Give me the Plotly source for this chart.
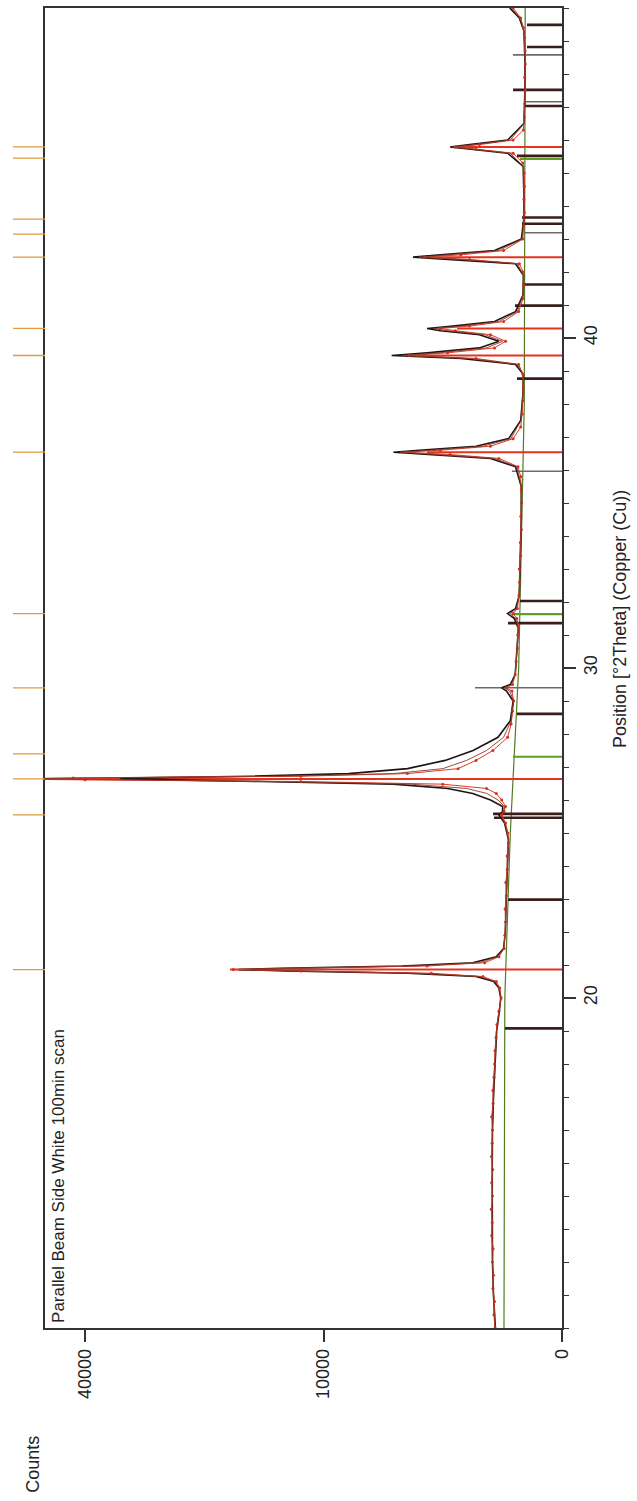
import numpy as np
import plotly.graph_objects as go

# ---------------- data ----------------
# observed scan (2theta, counts)
obs_theta = [10.0, 10.4, 10.8, 11.2, 11.6, 12.0, 12.4, 12.8, 13.2, 13.6,
             14.0, 14.4, 14.8, 15.2, 15.6, 16.0, 16.4, 16.8, 17.2, 17.6,
             18.0, 18.4, 18.8, 19.2, 19.6, 20.0, 20.3, 20.5, 20.65, 20.75,
             20.82, 20.86, 20.9, 20.97, 21.07, 21.25, 21.5, 21.9, 22.3, 22.7,
             23.1, 23.5, 23.9, 24.3, 24.7, 25.0, 25.3, 25.55, 25.65, 25.8,
             26.0, 26.2, 26.35, 26.48, 26.56, 26.61, 26.64, 26.67, 26.72, 26.8,
             26.95, 27.2, 27.5, 27.9, 28.3, 28.7, 29.0, 29.3, 29.4, 29.5,
             29.8, 30.2, 30.6, 31.0, 31.3, 31.5, 31.65, 31.8, 32.2, 32.6,
             33.0, 33.4, 33.8, 34.2, 34.6, 35.0, 35.4, 35.8, 36.1, 36.35,
             36.47, 36.54, 36.6, 36.72, 36.95, 37.3, 37.7, 38.1, 38.5, 38.9,
             39.2, 39.38, 39.47, 39.55, 39.7, 39.9, 40.1, 40.22, 40.29, 40.36,
             40.5, 40.8, 41.2, 41.6, 42.0, 42.25, 42.38, 42.45, 42.52, 42.65,
             43.0, 43.4, 43.8, 44.2, 44.6, 45.0, 45.3, 45.6, 45.72, 45.79,
             45.86, 46.0, 46.3, 46.7, 47.1, 47.5, 47.9, 48.3, 48.7, 49.1,
             49.4, 49.7, 50.0]
obs_counts = [790, 815, 800, 840, 825, 850, 835, 870, 855, 880,
              850, 870, 845, 875, 860, 850, 870, 835, 840, 815,
              800, 790, 765, 745, 700, 650, 680, 760, 1100, 3000,
              12000, 19000, 12500, 3200, 1050, 700, 590, 575, 560, 570,
              545, 555, 525, 530, 505, 515, 560, 640, 590, 560,
              640, 760, 1000, 2500, 12000, 40000, 60000, 42000, 12000, 4200,
              1900, 1300, 840, 520, 455, 430, 410, 440, 540, 430,
              385, 370, 350, 345, 335, 360, 420, 350, 325, 315,
              320, 300, 305, 290, 298, 285, 292, 300, 340, 700,
              2200, 4300, 2600, 900, 420, 300, 280, 270, 262, 268,
              330, 1300, 4100, 2300, 800, 560, 900, 2000, 2600, 1500,
              600, 330, 268, 258, 265, 320, 1500, 3300, 1800, 600,
              270, 258, 250, 256, 248, 252, 270, 420, 1300, 2000,
              1200, 420, 262, 250, 244, 238, 245, 236, 240, 245,
              262, 300, 420]

# fitted profiles
two_theta = [10.0, 11.0, 12.0, 13.0, 14.0, 15.0, 16.0, 17.0, 18.0, 19.0,
             19.6, 20.0, 20.3, 20.5, 20.65, 20.75, 20.82, 20.86, 20.9, 20.97,
             21.07, 21.25, 21.5, 22.0, 23.0, 24.0, 24.8, 25.3, 25.55, 25.65,
             25.8, 26.0, 26.2, 26.35, 26.48, 26.56, 26.61, 26.64, 26.67, 26.72,
             26.8, 26.95, 27.2, 27.5, 27.9, 28.4, 29.0, 29.3, 29.4, 29.5,
             29.8, 30.5, 31.2, 31.5, 31.65, 31.8, 32.2, 33.5, 34.5, 35.5,
             36.1, 36.35, 36.47, 36.54, 36.6, 36.72, 36.95, 37.5, 38.3, 38.9,
             39.2, 39.38, 39.47, 39.55, 39.7, 39.9, 40.1, 40.22, 40.29, 40.36,
             40.5, 40.8, 41.3, 41.9, 42.25, 42.38, 42.45, 42.52, 42.65, 43.0,
             43.6, 44.4, 45.2, 45.6, 45.72, 45.79, 45.86, 46.0, 46.5, 47.5,
             48.5, 49.3, 49.7, 50.0]

calculated = [780, 825, 850, 860, 855, 855, 850, 825, 795, 750,
              690, 660, 700, 820, 1300, 4200, 13500, 18400, 14000, 4500,
              1400, 760, 600, 565, 548, 525, 505, 580, 700, 620,
              620, 900, 1400, 2300, 5000, 16000, 30000, 34300, 31000, 17000,
              8000, 4200, 2400, 1390, 720, 470, 420, 540, 640, 470,
              385, 360, 335, 400, 520, 380, 322, 305, 292, 292,
              380, 900, 3000, 5000, 3600, 1300, 500, 300, 268, 264,
              380, 1800, 5100, 3200, 1200, 700, 1200, 2600, 3200, 2100,
              800, 380, 268, 262, 380, 2200, 3900, 2600, 800, 290,
              257, 256, 265, 520, 1600, 2200, 1500, 520, 255, 242,
              242, 255, 320, 480]

profile2 = [785, 830, 848, 862, 852, 858, 852, 828, 798, 755,
            695, 655, 690, 790, 1200, 3500, 12500, 17000, 12800, 3800,
            1200, 730, 595, 565, 546, 522, 503, 570, 660, 600,
            580, 720, 1000, 1600, 4000, 15000, 38000, 50000, 40000, 14000,
            5000, 2500, 1600, 1000, 600, 455, 410, 480, 580, 450,
            382, 360, 335, 380, 470, 365, 321, 305, 291, 291,
            360, 800, 2600, 4600, 3000, 1100, 460, 295, 266, 263,
            350, 1500, 4500, 2700, 1000, 620, 1050, 2300, 2900, 1800,
            700, 350, 266, 261, 350, 1800, 3600, 2200, 700, 280,
            256, 255, 262, 470, 1450, 2100, 1350, 470, 252, 241,
            241, 252, 310, 450]

bg_theta = [10, 20, 25, 30, 38, 50]
bg_counts = [592, 575, 470, 330, 250, 238]

stick_pos = [49.49, 48.82, 48.58, 47.52, 47.16, 47.03, 45.79, 45.52, 45.43, 43.65,
             43.46, 43.19, 42.45, 41.62, 40.98, 40.29, 39.47, 38.77, 36.54, 35.96,
             32.03, 31.63, 31.36, 29.40, 28.61, 27.31, 26.64, 25.58, 25.46, 22.98,
             20.86, 19.08]
stick_end = [215, 215, 422, 422, 240, 240, 1938, 356, 310, 281,
             281, 253, 2747, 253, 388, 1938, 3696, 356, 3204, 440,
             310, 440, 513, 1331, 356, 422, 60000, 837, 813, 513,
             19377, 571]
stick_kind = ['dark', 'dark', 'grey', 'dark', 'grey', 'dark', 'red', 'dark', 'green', 'dark',
              'dark', 'grey', 'red', 'dark', 'dark', 'red', 'red', 'dark', 'red', 'grey',
              'dark', 'green', 'dark', 'grey', 'dark', 'green', 'red', 'dark', 'dark', 'dark',
              'red', 'dark']

peak_list = [45.79, 45.45, 43.6, 43.15, 42.45, 40.29, 39.47, 36.54, 31.65, 29.4,
             27.4, 26.64, 25.55, 20.86]

x_ticks = [0, 10000, 40000]
y_ticks = [20, 30, 40]

# ---------------- figure ----------------
FONT = "Liberation Sans, Arial, sans-serif"
SQRT_MAX = 216.8

fig = go.Figure()

stick_colors = {'dark': '#3a1c1a', 'grey': '#6e6a6a', 'red': '#e3341f', 'green': '#5f9e22'}
stick_widths = {'dark': 2.6, 'grey': 1.6, 'red': 2.0, 'green': 2.2}

# background line
fig.add_trace(go.Scatter(x=np.sqrt(bg_counts), y=bg_theta, mode='lines',
                         line=dict(color='#557a22', width=1.2), hoverinfo='skip'))

# reference sticks
for kind in ['grey', 'dark', 'green', 'red']:
    xs, ys = [], []
    for p, e, k in zip(stick_pos, stick_end, stick_kind):
        if k == kind:
            xs += [0, np.sqrt(e), None]
            ys += [p, p, None]
    fig.add_trace(go.Scatter(x=xs, y=ys, mode='lines',
                             line=dict(color=stick_colors[kind], width=stick_widths[kind]),
                             hoverinfo='skip'))

# calculated profile
fig.add_trace(go.Scatter(x=np.sqrt(calculated), y=two_theta, mode='lines',
                         line=dict(color='#1e1414', width=1.6), hoverinfo='skip'))
# observed
fig.add_trace(go.Scatter(x=np.sqrt(obs_counts), y=obs_theta, mode='lines+markers',
                         line=dict(color='#e23a24', width=1.0),
                         marker=dict(color='#d8301c', size=3), hoverinfo='skip'))
# second profile
fig.add_trace(go.Scatter(x=np.sqrt(profile2), y=two_theta, mode='lines',
                         line=dict(color='#8a3a2a', width=0.9), hoverinfo='skip'))

# orange peak markers outside the left frame
for p in peak_list:
    fig.add_shape(type='line', xref='paper', yref='y', x0=-0.062, x1=0.0, y0=p, y1=p,
                  line=dict(color='#e39a3a', width=1.3))

fig.update_xaxes(range=[SQRT_MAX, 0], tickvals=np.sqrt(x_ticks).tolist(),
                 ticktext=[str(v) for v in x_ticks], tickangle=-90,
                 ticks='outside', ticklen=12, tickwidth=1.5, tickcolor='#333',
                 showline=True, mirror=True, linecolor='#333', linewidth=1.6,
                 showgrid=False, zeroline=False,
                 tickfont=dict(family=FONT, size=18, color='#222'))
fig.update_yaxes(range=[10, 50], side='right', tickvals=y_ticks,
                 ticktext=[str(v) for v in y_ticks], tickangle=-90,
                 ticks='outside', ticklen=12, tickwidth=1.5, tickcolor='#333',
                 minor=dict(tick0=10, dtick=1, ticks='outside', ticklen=5,
                            tickwidth=1.3, tickcolor='#333', showgrid=False),
                 showline=True, mirror=True, linecolor='#333', linewidth=1.6,
                 showgrid=False, zeroline=False,
                 tickfont=dict(family=FONT, size=18, color='#222'))

fig.add_annotation(text='Parallel Beam Side White 100min scan', textangle=-90,
                   xref='paper', yref='paper', x=0.004, y=0.002,
                   xanchor='left', yanchor='bottom', showarrow=False,
                   font=dict(family=FONT, size=17, color='#222'))
fig.add_annotation(text='Position [°2Theta] (Copper (Cu))', textangle=-90,
                   xref='paper', yref='paper', x=1.112, y=0.537,
                   xanchor='center', yanchor='middle', showarrow=False,
                   font=dict(family=FONT, size=18, color='#222'))
fig.add_annotation(text='Counts', textangle=-90,
                   xref='paper', yref='paper', x=-0.023, y=-0.1036,
                   xanchor='center', yanchor='middle', showarrow=False,
                   font=dict(family=FONT, size=18, color='#222'))

fig.update_layout(width=637, height=1501, autosize=False,
                  margin=dict(l=45, r=75, t=6, b=173),
                  paper_bgcolor='white', plot_bgcolor='white',
                  showlegend=False)

fig.write_html("out.html")
